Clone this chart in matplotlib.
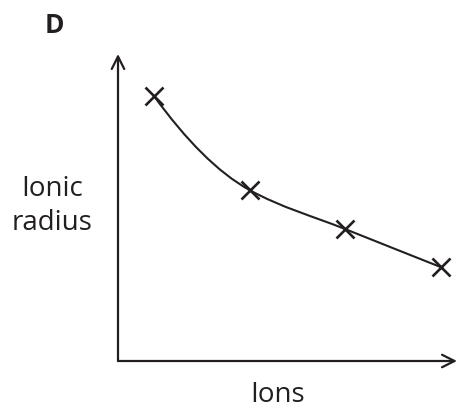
import matplotlib
matplotlib.use("Agg")
import matplotlib.pyplot as plt
from matplotlib.path import Path
from matplotlib.patches import PathPatch
import numpy as np

# data (arbitrary units)
ions = [1, 2, 3, 4]
radius = [265, 171, 132, 94]

W, H = 457, 410
fig = plt.figure(figsize=(W / 100, H / 100), dpi=100)
plt.rcParams['font.family'] = ['Open Sans', 'DejaVu Sans']

ox, oy = 118, 362
ax = fig.add_axes([ox / W, (H - oy) / H, (W - ox) / W, (oy - 40) / H])
scale = 95.5
x0 = 1 - 36 / scale
ax.set_xlim(x0, x0 + (W - ox) / scale)
ax.set_ylim(0, oy - 40)
ax.axis('off')

# smooth curve through points (cubic Hermite -> Bezier)
px = np.array(ions, float)
py = np.array(radius, float)
n = len(px)
s = np.diff(py) / np.diff(px)
m = np.empty(n)
m[0] = s[0] * 1.4
m[-1] = s[-1]
for i in range(1, n - 1):
    m[i] = 0.25 * s[i - 1] + 0.75 * s[i]
verts = [(px[0], py[0])]
codes = [Path.MOVETO]
for i in range(n - 1):
    h = px[i + 1] - px[i]
    c1 = (px[i] + h / 3, py[i] + m[i] * h / 3)
    c2 = (px[i + 1] - h / 3, py[i + 1] - m[i + 1] * h / 3)
    verts += [c1, c2, (px[i + 1], py[i + 1])]
    codes += [Path.CURVE4] * 3
ax.add_patch(PathPatch(Path(verts, codes), fill=False, lw=1.5, ec='#231f20'))
ax.plot(ions, radius, ls='none', marker='x', ms=13, mew=1.9, color='#231f20')

# axes with open arrows
xl = ax.get_xlim()
ax.annotate('', xy=(xl[1], 0), xytext=(xl[0], 0), annotation_clip=False,
            arrowprops=dict(arrowstyle='->,head_length=0.9,head_width=0.45', lw=1.6, color='#231f20', shrinkA=0, shrinkB=0))
ax.annotate('', xy=(xl[0], oy - 55), xytext=(xl[0], 0), annotation_clip=False,
            arrowprops=dict(arrowstyle='->,head_length=0.9,head_width=0.45', lw=1.6, color='#231f20', shrinkA=0, shrinkB=0))

fig.text(54 / W, 1 - 33 / H, 'D', fontsize=19, fontweight='bold', ha='center', va='baseline', color='#231f20')
fig.text(52 / W, 1 - 206 / H, 'Ionic\nradius', fontsize=20, ha='center', va='center', linespacing=1.25, color='#231f20')
fig.text(278 / W, 1 - 402 / H, 'Ions', fontsize=20, ha='center', va='baseline', color='#231f20')

fig.savefig('out.png', dpi=100)
